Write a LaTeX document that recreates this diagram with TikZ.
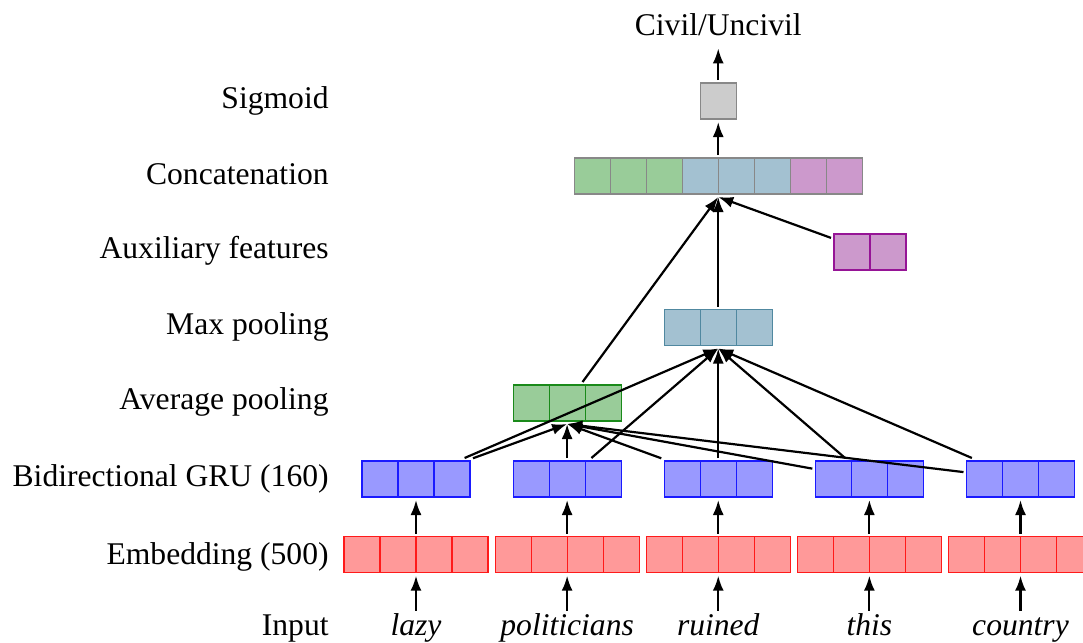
\documentclass[tikz,border=0pt]{standalone}
\usepackage{fontspec}
\setmainfont{Liberation Serif}
\usetikzlibrary{arrows.meta}
\definecolor{embfill}{HTML}{FF9999}
\definecolor{embline}{HTML}{FF1A1A}
\definecolor{grufill}{HTML}{9999FF}
\definecolor{gruline}{HTML}{1A1AFF}
\definecolor{avgfill}{HTML}{99CC99}
\definecolor{avgline}{HTML}{1A8A1A}
\definecolor{maxfill}{HTML}{A3C1D1}
\definecolor{maxline}{HTML}{5088A0}
\definecolor{auxfill}{HTML}{CC99CC}
\definecolor{auxline}{HTML}{961496}
\definecolor{sigfill}{HTML}{CCCCCC}
\definecolor{sigline}{HTML}{888888}
\definecolor{concatline}{HTML}{888888}
\newcommand\lblfont{\fontsize{15.8pt}{19pt}\selectfont}
\newcommand\cellrow[5]{%
  \node[box,minimum width=#4*18pt] (#1) at (#2,#3) {};
  \foreach \k in {1,...,#4}{\draw[cell,fill=#5fill,draw=#5line] ({#2-#4*18+(\k-1)*36},{#3-18}) rectangle ++(36,36);}
}
\begin{document}
\begin{tikzpicture}[x=0.5pt,y=-0.5pt,
  box/.style={minimum height=18pt,inner sep=0pt,outer sep=1.5pt},
  cell/.style={line width=0.6pt},
  conn/.style={-{Latex[length=7.5pt,width=5.5pt]},line width=1.1pt},
  lbl/.style={anchor=base east,inner sep=0pt,font=\lblfont},
  word/.style={anchor=base,inner xsep=0pt,inner ysep=5pt,text height=0.7em,font=\lblfont\itshape},
  outtext/.style={anchor=base,inner xsep=0pt,inner ysep=6.5pt,text depth=0pt,font=\lblfont},
]
\clip (0,0) rectangle (1083,643);
% labels
\node[lbl] (lsig) at (329,108) {Sigmoid};
\node[lbl] (lcat) at (329,184) {Concatenation};
\node[lbl] (laux) at (329,258) {Auxiliary features};
\node[lbl] (lmax) at (329,334) {Max pooling};
\node[lbl] (lavg) at (329,409) {Average pooling};
\node[lbl] (lgru) at (329,486) {Bidirectional GRU (160)};
\node[lbl] (lemb) at (329,564) {Embedding (500)};
\node[lbl] (linp) at (329,635) {Input};
% words
\node[word] (w1) at (416,635) {lazy};
\node[word] (w2) at (567.125,635) {politicians};
\node[word] (w3) at (718.25,635) {ruined};
\node[word] (w4) at (869.375,635) {this};
\node[word] (w5) at (1020.5,635) {country};
% boxes
\cellrow{e1}{416}{554.7}{4}{emb}
\cellrow{e2}{567.125}{554.7}{4}{emb}
\cellrow{e3}{718.25}{554.7}{4}{emb}
\cellrow{e4}{869.375}{554.7}{4}{emb}
\cellrow{e5}{1020.5}{554.7}{4}{emb}
\cellrow{g1}{416}{479}{3}{gru}
\cellrow{g2}{567.125}{479}{3}{gru}
\cellrow{g3}{718.25}{479}{3}{gru}
\cellrow{g4}{869.375}{479}{3}{gru}
\cellrow{g5}{1020.5}{479}{3}{gru}
\cellrow{avg}{567.125}{403}{3}{avg}
\cellrow{max}{718.25}{327.5}{3}{max}
\cellrow{aux}{870}{252}{2}{aux}
\node[box,minimum width=144pt] (cat) at (718.25,176) {};
\foreach \k/\c in {1/avgfill,2/avgfill,3/avgfill,4/maxfill,5/maxfill,6/maxfill,7/auxfill,8/auxfill}
  {\draw[cell,fill=\c,draw=concatline] ({718.25-144+(\k-1)*36},158) rectangle ++(36,36);}
\cellrow{sig}{718.25}{101}{1}{sig}
\node[outtext] (out) at (718.25,35) {Civil/Uncivil};
% connectors
\foreach \i in {1,...,5}{
  \draw[conn] (w\i.north) -- (e\i.south);
  \draw[conn] (e\i) -- (g\i);
}
\foreach \i in {1,...,5}{
  \draw[conn] (g\i) -- (avg.south);
  \draw[conn] (g\i) -- (max.south);
}
\draw[conn] (avg) -- (cat.south);
\draw[conn] (max) -- (cat.south);
\draw[conn] (aux) -- (cat.south);
\draw[conn] (cat) -- (sig);
\draw[conn] (sig) -- (out.south);
\end{tikzpicture}
\end{document}
